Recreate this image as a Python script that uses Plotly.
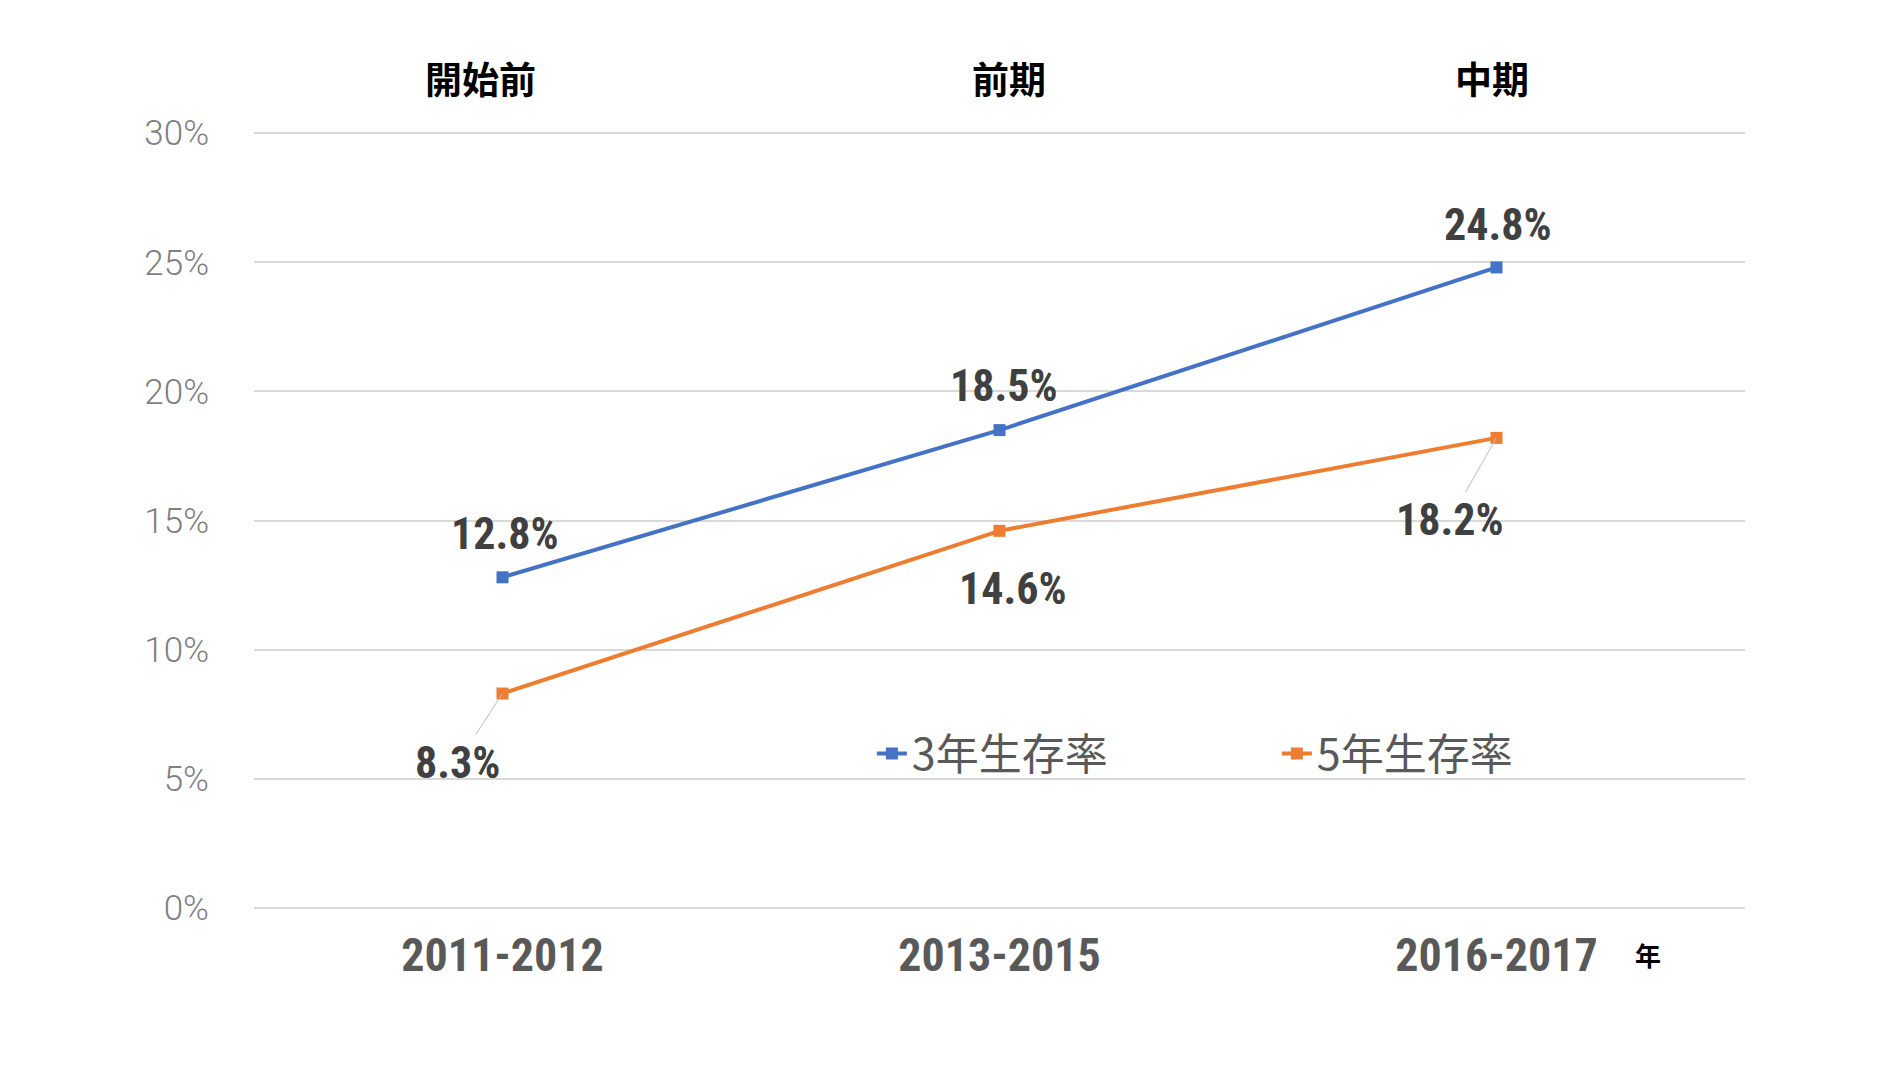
import plotly.graph_objects as go

categories = ["2011-2012", "2013-2015", "2016-2017"]
phases = ["開始前", "前期", "中期"]
series_names = ["3年生存率", "5年生存率"]
surv_3yr = [12.8, 18.5, 24.8]
surv_5yr = [8.3, 14.6, 18.2]
y_ticks = [0, 5, 10, 15, 20, 25, 30]
y_tick_labels = ["0%", "5%", "10%", "15%", "20%", "25%", "30%"]

colors = ["#4472C4", "#ED7D31"]
label_font = dict(family="Liberation Sans Narrow, Roboto Condensed, DejaVu Sans Condensed, sans-serif",
                  size=44, color="#404040", weight="bold")

fig = go.Figure()
for name, vals, c in zip(series_names, [surv_3yr, surv_5yr], colors):
    fig.add_trace(go.Scatter(
        x=categories, y=vals, name=name, mode="lines+markers",
        line=dict(color=c, width=4),
        marker=dict(symbol="square", size=12, color=c),
    ))

# label placement (pixel offsets), style only
offs_3 = [dict(xshift=2, yshift=43), dict(xshift=4, yshift=44), dict(xshift=1, yshift=42)]
offs_5 = [dict(arrow=True, ax=-45, ay=69), dict(xshift=13, yshift=-58), dict(arrow=True, ax=-47, ay=82)]

annotations = []
for vals, offs in [(surv_3yr, offs_3), (surv_5yr, offs_5)]:
    for cat, v, o in zip(categories, vals, offs):
        a = dict(x=cat, y=v, xref="x", yref="y", text=f"{v:.1f}%", font=label_font)
        if o.get("arrow"):
            a.update(showarrow=True, ax=o["ax"], ay=o["ay"], arrowhead=0,
                     arrowwidth=1, arrowcolor="#bfbfbf", standoff=0)
        else:
            a.update(showarrow=False, xshift=o["xshift"], yshift=o["yshift"])
        annotations.append(a)

phase_x = [0.1516, 0.5063, 0.830]
for p, px in zip(phases, phase_x):
    annotations.append(dict(x=px, y=1.064, xref="paper", yref="paper", text=p, showarrow=False,
                            font=dict(family="Noto Sans CJK JP", size=37, color="#000000", weight="bold"),
                            xanchor="center", yanchor="middle"))
annotations.append(dict(x=0.935, y=-0.053, xref="paper", yref="paper", text="年", showarrow=False,
                        font=dict(family="Noto Sans CJK JP", size=26, color="#000000", weight="bold"),
                        xanchor="center", yanchor="middle"))

fig.update_layout(
    width=1904, height=1067,
    margin=dict(l=254, r=159, t=128, b=154),
    paper_bgcolor="white", plot_bgcolor="white",
    showlegend=True,
    legend=dict(orientation="h", x=0.4144, y=0.203, xanchor="left", yanchor="middle",
                font=dict(family="Noto Sans CJK JP", size=43, color="#595959"),
                entrywidth=360, itemwidth=30, bgcolor="rgba(0,0,0,0)"),
    annotations=annotations,
    xaxis=dict(type="category", range=[-0.5, 2.5], showgrid=False, zeroline=False, showline=False,
               tickfont=dict(family="Liberation Sans Narrow, Roboto Condensed, DejaVu Sans Condensed, sans-serif",
                             size=46, color="#595959", weight="bold"),
               ticklabelstandoff=11),
    yaxis=dict(range=[-0.2, 30.2], tickvals=y_ticks, ticktext=y_tick_labels,
               showgrid=True, gridcolor="#d9d9d9", gridwidth=1.5,
               zeroline=False, showline=False,
               tickfont=dict(family="Roboto", size=35, color="#7f7f7f", weight=300),
               ticklabelstandoff=44),
)

fig.write_html("out.html", config={"displayModeBar": False},
               post_script="document.body.style.margin='0';document.body.style.overflow='hidden';")
